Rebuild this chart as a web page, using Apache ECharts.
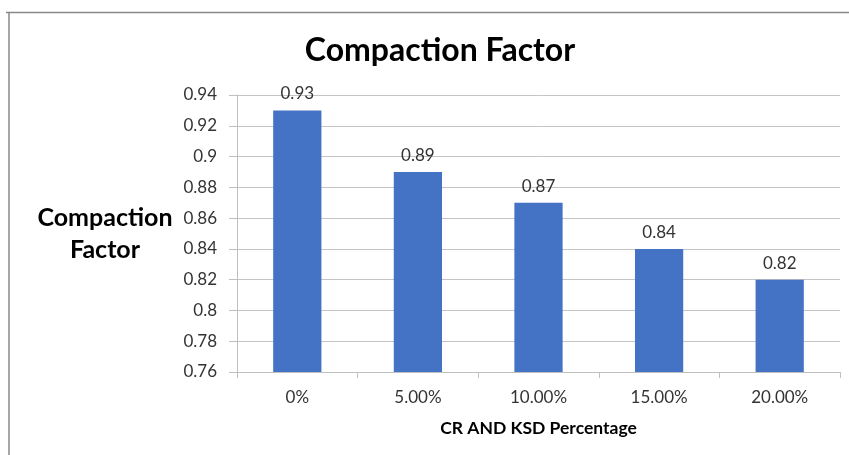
<!DOCTYPE html>
<html>
<head>
<meta charset="utf-8">
<script src="https://cdn.jsdelivr.net/npm/echarts@6/dist/echarts.min.js"></script>
<style>html,body{margin:0;padding:0;background:#fff;}#c{width:849px;height:455px;}</style>
</head>
<body>
<div id="c"></div>
<script>
const categories = ['0%', '5.00%', '10.00%', '15.00%', '20.00%'];
const compactionFactor = [0.93, 0.89, 0.87, 0.84, 0.82];
const yMin = 0.76, yMax = 0.94, yStep = 0.02;

const chart = echarts.init(document.getElementById('c'));
const font = 'Lato, "Open Sans", sans-serif';
chart.setOption({
  animation: false,
  textStyle: { fontFamily: font },
  title: {
    text: 'Compaction Factor',
    left: 435, top: 30, textAlign: 'center',
    textStyle: { fontFamily: font, fontWeight: 'bold', fontSize: 32, color: '#000' }
  },
  graphic: [
    { type: 'line', shape: { x1: 6, y1: 12.5, x2: 849, y2: 12.5 }, style: { stroke: '#888', lineWidth: 1.5 } },
    { type: 'line', shape: { x1: 9, y1: 12, x2: 9, y2: 455 }, style: { stroke: '#888', lineWidth: 1.5 } },
    { type: 'text', x: 105, y: 202, style: { text: 'Compaction\nFactor', font: 'bold 25px ' + font, fill: '#000', lineHeight: 32, textAlign: 'center' } }
  ],
  grid: { left: 237, right: 9, top: 95, bottom: 83 },
  xAxis: {
    type: 'category',
    data: categories,
    name: 'CR AND KSD Percentage',
    nameLocation: 'middle',
    nameGap: 47,
    nameTextStyle: { fontFamily: font, fontWeight: 'bold', fontSize: 17.5, color: '#000' },
    axisLine: { lineStyle: { color: '#bfbfbf', width: 1 } },
    axisTick: { show: true, length: 6, lineStyle: { color: '#bfbfbf' } },
    axisLabel: { fontSize: 17, color: '#333', margin: 17, fontFamily: font }
  },
  yAxis: {
    type: 'value',
    min: yMin, max: yMax, interval: yStep,
    axisLine: { show: true, lineStyle: { color: '#bfbfbf', width: 1 } },
    axisTick: { show: true, length: 8, lineStyle: { color: '#bfbfbf' } },
    splitLine: { lineStyle: { color: '#c4c4c4', width: 1 } },
    axisLabel: {
      fontSize: 17, color: '#333', margin: 20, fontFamily: font,
      formatter: v => String(parseFloat(v.toFixed(2)))
    }
  },
  series: [{
    type: 'bar',
    data: compactionFactor,
    barWidth: '40%',
    itemStyle: { color: '#4472C4' },
    label: { show: true, position: 'top', distance: 8, fontSize: 17, color: '#333', fontFamily: font }
  }]
});
</script>
</body>
</html>
